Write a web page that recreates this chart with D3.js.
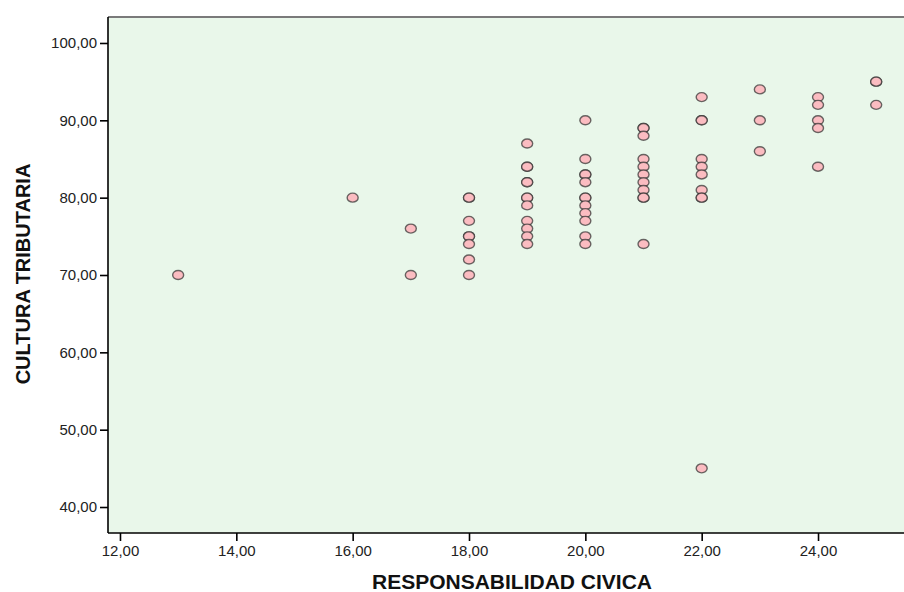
<!DOCTYPE html>
<html>
<head>
<meta charset="utf-8">
<script src="https://cdn.jsdelivr.net/npm/d3@7"></script>
<style>
  body { margin: 0; background: #fff; }
  text { font-family: "Liberation Sans", Arial, sans-serif; }
</style>
</head>
<body>
<div id="chart"></div>
<script>
// values (x = responsabilidad civica, y = cultura tributaria)
var responsabilidad = [13, 16, 17, 17,
  18, 18, 18, 18, 18, 18, 18, 18,
  19, 19, 19, 19, 19, 19, 19, 19, 19, 19, 19, 19,
  20, 20, 20, 20, 20, 20, 20, 20, 20, 20, 20, 20,
  21, 21, 21, 21, 21, 21, 21, 21, 21, 21, 21,
  22, 22, 22, 22, 22, 22, 22, 22, 22, 22,
  23, 23, 23,
  24, 24, 24, 24, 24,
  25, 25, 25];
var cultura = [70, 80, 76, 70,
  80, 80, 77, 75, 75, 74, 72, 70,
  87, 84, 84, 82, 82, 80, 80, 79, 77, 76, 75, 74,
  90, 85, 83, 83, 82, 80, 80, 79, 78, 77, 75, 74,
  89, 89, 88, 85, 84, 83, 82, 81, 80, 80, 74,
  93, 90, 90, 85, 84, 83, 81, 80, 80, 45,
  94, 90, 86,
  93, 92, 90, 89, 84,
  95, 95, 92];
var xTicks = [12, 14, 16, 18, 20, 22, 24];
var yTicks = [40, 50, 60, 70, 80, 90, 100];

var W = 904, H = 592;
var margin = {top: 17, right: 0, bottom: 59, left: 108};
var width = W - margin.left - margin.right,
    height = H - margin.top - margin.bottom;

var svg = d3.select("#chart").append("svg")
    .attr("width", W)
    .attr("height", H);

var g = svg.append("g")
    .attr("transform", "translate(" + margin.left + "," + margin.top + ")");

var xScale = d3.scaleLinear().domain([11.794, 25.478]).range([0, width]);
var yScale = d3.scaleLinear().domain([36.64, 103.36]).range([height, 0]);

var fmt = function(d) { return d3.format(".2f")(d).replace(".", ","); };

// plot background
g.append("rect")
  .attr("width", width)
  .attr("height", height)
  .attr("fill", "#e9f7ea");

// top frame line
g.append("line")
  .attr("x1", 0).attr("x2", width)
  .attr("y1", 0).attr("y2", 0)
  .attr("stroke", "#7a7a7a")
  .attr("stroke-width", 2);

var xAxis = d3.axisBottom(xScale).tickValues(xTicks).tickSize(8).tickPadding(4).tickFormat(fmt);
var yAxis = d3.axisLeft(yScale).tickValues(yTicks).tickSize(8).tickPadding(3).tickFormat(fmt);

var xg = g.append("g")
  .attr("transform", "translate(0," + height + ")")
  .call(xAxis);
var yg = g.append("g").call(yAxis);

[xg, yg].forEach(function(a) {
  a.select(".domain").attr("stroke", "#000").attr("stroke-width", 1.6);
  a.selectAll(".tick line").attr("stroke", "#000").attr("stroke-width", 1.6);
  a.selectAll(".tick text")
    .attr("fill", "#222")
    .style("font-size", "15px")
    .style("font-family", "'Liberation Sans', Arial, sans-serif");
});
// axis lines span the whole frame
xg.select(".domain").attr("d", "M0,0H" + width);
yg.select(".domain").attr("d", "M0,0V" + height);

// points
g.selectAll("ellipse.pt")
  .data(d3.range(responsabilidad.length))
  .enter()
  .append("ellipse")
  .attr("class", "pt")
  .attr("cx", function(i) { return xScale(responsabilidad[i]); })
  .attr("cy", function(i) { return yScale(cultura[i]); })
  .attr("rx", 5.5)
  .attr("ry", 4.5)
  .attr("fill", "#fbbcc1")
  .attr("stroke", "#2e2e2e")
  .attr("stroke-opacity", 0.7)
  .attr("stroke-width", 1.4);

// axis titles
svg.append("text")
  .attr("x", 512)
  .attr("y", 589)
  .attr("text-anchor", "middle")
  .style("font-size", "21px")
  .style("font-weight", "bold")
  .attr("fill", "#111")
  .text("RESPONSABILIDAD CIVICA");

svg.append("text")
  .attr("transform", "translate(30,274) rotate(-90)")
  .attr("text-anchor", "middle")
  .style("font-size", "20px")
  .style("font-weight", "bold")
  .attr("fill", "#111")
  .text("CULTURA TRIBUTARIA");
</script>
</body>
</html>
